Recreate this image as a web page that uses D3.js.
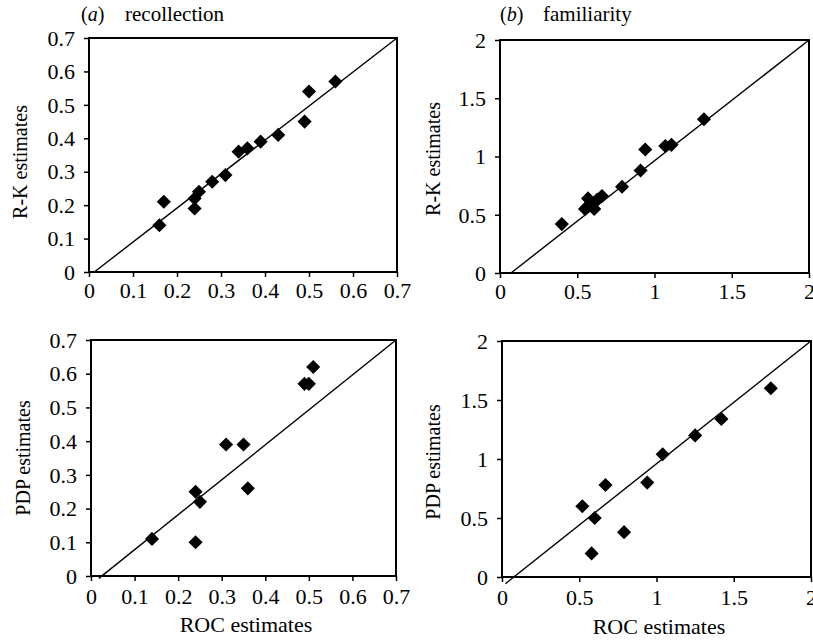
<!DOCTYPE html>
<html>
<head>
<meta charset="utf-8">
<script src="https://cdn.jsdelivr.net/npm/d3@7"></script>
<style>
  html, body { margin: 0; padding: 0; background: #fff; }
  svg { display: block; }
  text { font-family: "Liberation Serif", "Times New Roman", serif; fill: #000; }
</style>
</head>
<body>
<svg id="chart" width="813" height="641"></svg>
<script>
// Recollection: ROC estimate vs R-K estimate
const recollRocRK = [0.16, 0.17, 0.24, 0.24, 0.25, 0.28, 0.31, 0.34, 0.36, 0.39, 0.43, 0.49, 0.50, 0.56];
const recollRK    = [0.14, 0.21, 0.19, 0.22, 0.24, 0.27, 0.29, 0.36, 0.37, 0.39, 0.41, 0.45, 0.54, 0.57];
// Familiarity: ROC estimate vs R-K estimate
const famRocRK = [0.40, 0.55, 0.57, 0.59, 0.61, 0.63, 0.66, 0.79, 0.91, 0.94, 1.07, 1.11, 1.32];
const famRK    = [0.42, 0.55, 0.64, 0.60, 0.55, 0.63, 0.66, 0.74, 0.88, 1.06, 1.09, 1.10, 1.32];
// Recollection: ROC estimate vs PDP estimate
const recollRocPDP = [0.14, 0.24, 0.24, 0.25, 0.31, 0.35, 0.36, 0.49, 0.50, 0.51];
const recollPDP    = [0.11, 0.10, 0.25, 0.22, 0.39, 0.39, 0.26, 0.57, 0.57, 0.62];
// Familiarity: ROC estimate vs PDP estimate
const famRocPDP = [0.52, 0.58, 0.60, 0.67, 0.79, 0.94, 1.04, 1.25, 1.42, 1.74];
const famPDP    = [0.60, 0.20, 0.50, 0.78, 0.38, 0.80, 1.04, 1.20, 1.34, 1.60];

// Reference lines (start and end points in data units)
const lineRecollRK  = [[0.012, 0], [0.7, 0.7]];
const lineFamRK     = [[0.071, 0], [2, 2]];
const lineRecollPDP = [[0.018, -0.007], [0.7, 0.7]];
const lineFamPDP    = [[0.022, -0.057], [2, 2]];

// Axis ticks and labels
const recollTicks = [0, 0.1, 0.2, 0.3, 0.4, 0.5, 0.6, 0.7];
const recollTickLabels = ["0", "0.1", "0.2", "0.3", "0.4", "0.5", "0.6", "0.7"];
const famTicks = [0, 0.5, 1, 1.5, 2];
const famTickLabels = ["0", "0.5", "1", "1.5", "2"];

const svg = d3.select("#chart");

const panels = [
  { box: [89, 397, 38, 272], max: 0.7, ticks: recollTicks, labels: recollTickLabels,
    xs: recollRocRK, ys: recollRK, line: lineRecollRK, ylab: "R-K estimates", ylabX: 20, ylabY: 162,
    title: ["(a)", "recollection"], titleX: 81, titleX2: 125, xlab: null, xTickDy: 26 },
  { box: [500, 809, 40, 273], max: 2, ticks: famTicks, labels: famTickLabels,
    xs: famRocRK, ys: famRK, line: lineFamRK, ylab: "R-K estimates", ylabX: 433, ylabY: 159,
    title: ["(b)", "familiarity"], titleX: 500, titleX2: 543, xlab: null, xTickDy: 26 },
  { box: [91, 396, 340, 576], max: 0.7, ticks: recollTicks, labels: recollTickLabels,
    xs: recollRocPDP, ys: recollPDP, line: lineRecollPDP, ylab: "PDP estimates", ylabX: 23, ylabY: 458,
    title: null, xlab: "ROC estimates", xlabX: 246, xlabY: 632, xTickDy: 28 },
  { box: [502, 811, 341, 577], max: 2, ticks: famTicks, labels: famTickLabels,
    xs: famRocPDP, ys: famPDP, line: lineFamPDP, ylab: "PDP estimates", ylabX: 433, ylabY: 462,
    title: null, xlab: "ROC estimates", xlabX: 659, xlabY: 634, xTickDy: 28 }
];

const diamond = d3.symbol().type(d3.symbolSquare).size(100);

panels.forEach(p => {
  const [x0, x1, y0, y1] = p.box;
  const x = d3.scaleLinear().domain([0, p.max]).range([x0, x1]);
  const y = d3.scaleLinear().domain([0, p.max]).range([y1, y0]);
  const g = svg.append("g");

  // x axis
  const xAxis = d3.axisBottom(x).tickValues(p.ticks)
    .tickFormat((d, i) => p.labels[i]).tickSize(5).tickSizeOuter(0);
  const gx = g.append("g").attr("transform", `translate(0,${y1})`).call(xAxis)
    .attr("font-family", null).attr("font-size", null);
  gx.select(".domain").remove();
  gx.selectAll(".tick line").attr("stroke", "#000").attr("stroke-width", 1.5);
  gx.selectAll(".tick text").attr("y", p.xTickDy).attr("dy", 0)
    .style("font-size", "22px").style("font-family", "'Liberation Serif', serif");

  // y axis
  const yAxis = d3.axisLeft(y).tickValues(p.ticks)
    .tickFormat((d, i) => p.labels[i]).tickSize(5).tickSizeOuter(0);
  const gy = g.append("g").attr("transform", `translate(${x0},0)`).call(yAxis)
    .attr("font-family", null).attr("font-size", null);
  gy.select(".domain").remove();
  gy.selectAll(".tick line").attr("stroke", "#000").attr("stroke-width", 1.5);
  gy.selectAll(".tick text").attr("x", -14).attr("dy", "0.33em")
    .style("font-size", "22px").style("font-family", "'Liberation Serif', serif");

  // frame
  g.append("rect")
    .attr("x", x0).attr("y", y0).attr("width", x1 - x0).attr("height", y1 - y0)
    .attr("fill", "none").attr("stroke", "#000").attr("stroke-width", 2);

  // reference line
  g.append("line")
    .attr("x1", x(p.line[0][0])).attr("y1", y(p.line[0][1]))
    .attr("x2", x(p.line[1][0])).attr("y2", y(p.line[1][1]))
    .attr("stroke", "#000").attr("stroke-width", 1.4);

  // points
  g.selectAll("path.pt").data(d3.range(p.xs.length)).join("path")
    .attr("class", "pt")
    .attr("d", diamond)
    .attr("transform", i => `translate(${x(p.xs[i])},${y(p.ys[i])}) rotate(45)`)
    .attr("fill", "#000");

  // y axis title
  g.append("text")
    .attr("transform", `translate(${p.ylabX},${p.ylabY}) rotate(-90)`)
    .attr("text-anchor", "middle").attr("dy", "0.35em")
    .style("font-size", "20px").text(p.ylab);

  // x axis title
  if (p.xlab) {
    g.append("text").attr("x", p.xlabX).attr("y", p.xlabY)
      .attr("text-anchor", "middle").style("font-size", "22px").text(p.xlab);
  }

  // panel title
  if (p.title) {
    const t = g.append("text").attr("y", 21).style("font-size", "20px");
    t.append("tspan").attr("x", p.titleX).text("(");
    t.append("tspan").attr("font-style", "italic").text(p.title[0].slice(1, -1));
    t.append("tspan").text(")");
    g.append("text").attr("x", p.titleX2).attr("y", 21).style("font-size", "21px").text(p.title[1]);
  }
});
</script>
</body>
</html>
